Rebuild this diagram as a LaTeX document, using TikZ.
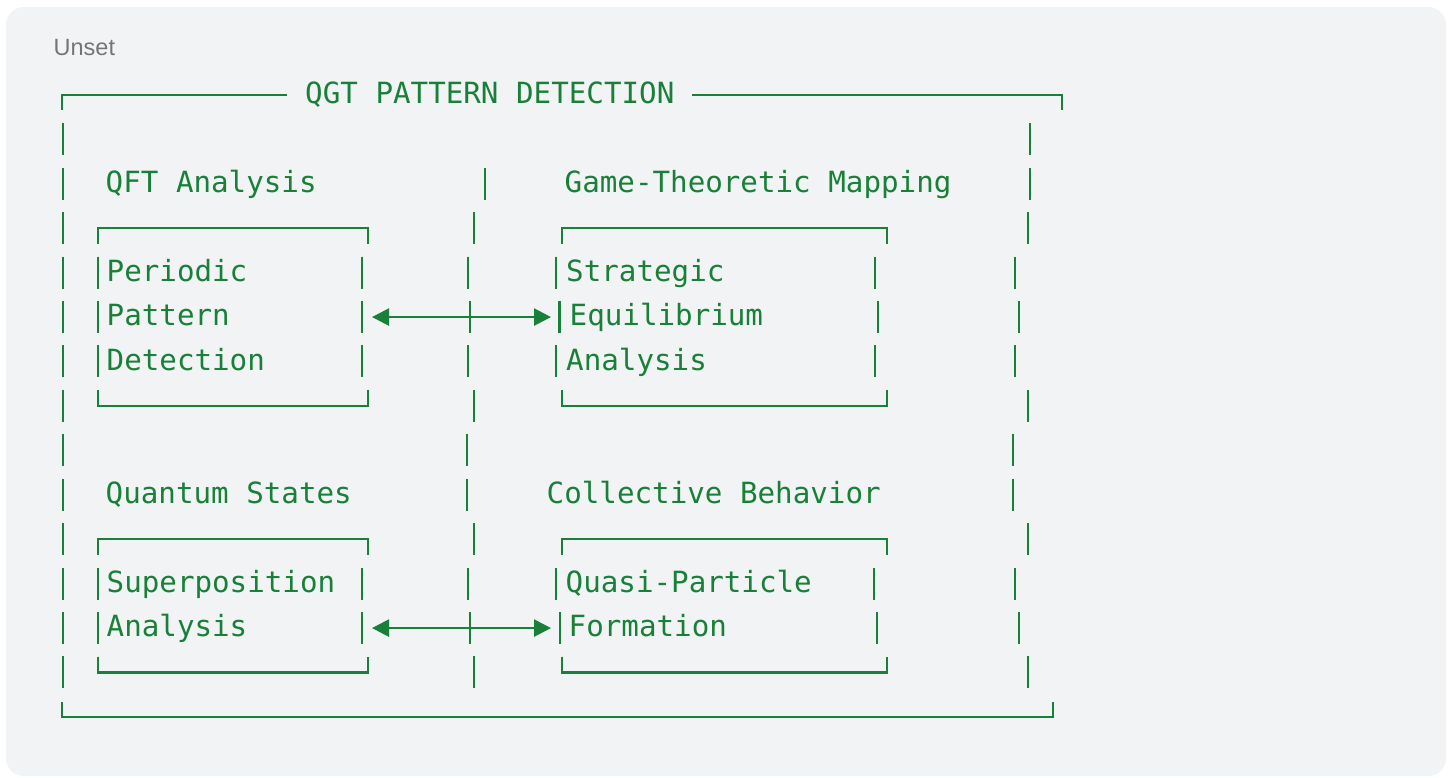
\documentclass[tikz,border=0pt]{standalone}
\usepackage{fontspec}
\setmainfont{Liberation Sans}
\newfontfamily\codefont{DejaVu Sans Mono}
\usetikzlibrary{arrows.meta}
\definecolor{bggray}{HTML}{F1F3F4}
\definecolor{codegreen}{HTML}{188038}
\definecolor{labelgray}{HTML}{757575}
\begin{document}
\begin{tikzpicture}[x=1pt,y=-1pt,
  bar/.style={draw=codegreen, line width=2.4pt},
  txt/.style={anchor=base west, inner sep=0pt, text=codegreen, font={\codefont\fontsize{29.2}{35}\selectfont}},
  dblarrow/.style={draw=codegreen, line width=2.4pt, {Triangle[length=17pt,width=17pt]}-{Triangle[length=17pt,width=17pt]}}]
\useasboundingbox (0,0) rectangle (1452,777);
\fill[white] (0,0) rectangle (1452,777);
\fill[bggray, rounded corners=18pt] (6,7) rectangle (1446,776);
\node[anchor=base west, inner sep=0pt, text=labelgray, font={\fontsize{23.5}{28}\selectfont}] (unset) at (53.5,55) {Unset};
% outer frame
\draw[bar] (62,110) -- (62,94.9) -- (287,94.9);
\draw[bar] (692,94.9) -- (1062,94.9) -- (1062,110);
\draw[bar] (62,702) -- (62,716.9) -- (1053,716.9) -- (1053,702);
\node[txt] (title) at (305,103.4) {QGT PATTERN DETECTION};
% vertical bars (x/row)
\foreach \x/\r in {63/1,63/2,63/3,63/4,63/5,63/6,63/7,63/8,63/9,63/10,63/11,63/12,63/13,
  1030/1,1030/2,1028/3,1015/4,1019/5,1015/6,1028/7,1013/8,1013/9,1028/10,1015/11,1019/12,1028/13,
  485/2,474/3,468/4,470/5,468/6,474/7,467/8,467/9,474/10,468/11,470/12,474/13,
  98/4,98/5,98/6,362/4,362/5,362/6,
  556/4,559.5/5,556/6,875/4,878/5,875/6,
  98/11,98/12,362/11,362/12,
  556/11,560/12,874/11,877/12}
  {\draw[bar] (\x,{94.9+44.43*\r-16}) -- ++(0,32);}
% inner boxes
\draw[bar] (98,243.5) -- (98,228.2) -- (368,228.2) -- (368,243.5);
\draw[bar] (98,390) -- (98,405.9) -- (368,405.9) -- (368,390);
\draw[bar] (562,243.5) -- (562,228.2) -- (887,228.2) -- (887,243.5);
\draw[bar] (562,390) -- (562,405.9) -- (887,405.9) -- (887,390);
\draw[bar] (98,555) -- (98,539.2) -- (368,539.2) -- (368,555);
\draw[bar] (98,656.5) -- (98,672.5) -- (368,672.5) -- (368,656.5);
\draw[bar] (562,555) -- (562,539.2) -- (887,539.2) -- (887,555);
\draw[bar] (562,656.5) -- (562,672.5) -- (887,672.5) -- (887,656.5);
% texts
\node[txt] (qft) at (105.5,192.3) {QFT Analysis};
\node[txt] (game) at (564.5,192.3) {Game-Theoretic Mapping};
\node[txt] (per1) at (106.5,281.1) {Periodic};
\node[txt] (per2) at (106.5,325.5) {Pattern};
\node[txt] (per3) at (106.5,370) {Detection};
\node[txt] (str1) at (566,281.1) {Strategic};
\node[txt] (str2) at (569.5,325.5) {Equilibrium};
\node[txt] (str3) at (566,370) {Analysis};
\node[txt] (qst) at (105.5,503.3) {Quantum States};
\node[txt] (col) at (546.5,503.3) {Collective Behavior};
\node[txt] (sup1) at (106.5,592.1) {Superposition};
\node[txt] (sup2) at (106.5,636.6) {Analysis};
\node[txt] (qp1) at (565.5,592.1) {Quasi-Particle};
\node[txt] (qp2) at (568.5,636.6) {Formation};
% arrows
\coordinate (a1l) at (372,317.05);
\coordinate (a1r) at (551,317.05);
\coordinate (a2l) at (372,628.06);
\coordinate (a2r) at (551,628.06);
\draw[dblarrow] (a1l) -- (a1r);
\draw[dblarrow] (a2l) -- (a2r);
\end{tikzpicture}
\end{document}
